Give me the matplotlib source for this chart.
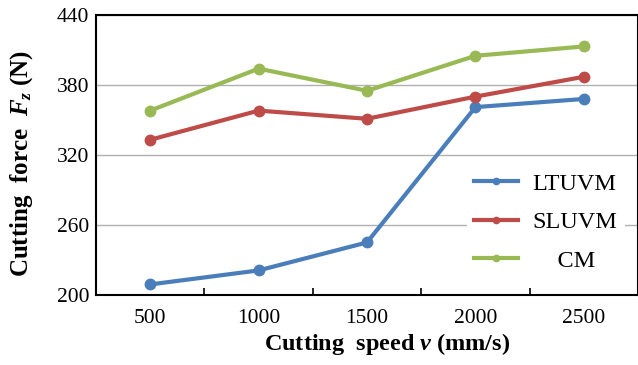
import numpy as np
import matplotlib.pyplot as plt

speeds = ['500', '1000', '1500', '2000', '2500']
ltuvm = [209, 221, 245, 361, 368]
sluvm = [333, 358, 351, 370, 387]
cm = [358, 394, 375, 405, 413]

plt.rcParams['font.family'] = ['Liberation Serif', 'DejaVu Serif']
plt.rcParams['mathtext.fontset'] = 'custom'
plt.rcParams['mathtext.rm'] = 'Liberation Serif:bold'
plt.rcParams['mathtext.it'] = 'Liberation Serif:bold:italic'
plt.rcParams['mathtext.bf'] = 'Liberation Serif:bold'

fig = plt.figure(figsize=(6.38, 3.65), dpi=100)
ax = fig.add_axes([0.1505, 0.192, 0.8495, 0.767])

x = np.arange(len(speeds))
ax.plot(x, ltuvm, color='#4a7ebb', lw=3, marker='o', ms=7.5, label='LTUVM')
ax.plot(x, sluvm, color='#be4b48', lw=3, marker='o', ms=7.5, label='SLUVM')
ax.plot(x, cm, color='#98b954', lw=3, marker='o', ms=7.5, label='    CM')

ax.set_xlim(-0.5, len(speeds) - 0.5)
ax.set_ylim(200, 440)
ax.set_yticks([200, 260, 320, 380, 440])
ax.set_xticks(x)
ax.set_xticklabels(speeds)
ax.set_xticks(x[:-1] + 0.5, minor=True)
ax.tick_params(axis='x', which='major', length=0, labelsize=15.5, pad=10)
ax.tick_params(axis='x', which='minor', direction='in', length=5, width=1.2)
ax.tick_params(axis='y', length=0, labelsize=15.5, pad=5)
ax.grid(axis='y', color='#b0b0b0', lw=1)
ax.set_axisbelow(True)
for s in ax.spines.values():
    s.set_linewidth(1.5)
    s.set_color('black')

ax.set_xlabel(r'Cutting  speed $v$ (mm/s)', fontsize=17.5, fontweight='bold')
ax.set_ylabel(r'Cutting  force  $F_z$ (N)', fontsize=18, fontweight='bold')
ax.xaxis.set_label_coords(0.537, -0.13)
ax.yaxis.set_label_coords(-0.112, 0.47)

leg = ax.legend(loc='center', bbox_to_anchor=(0.83, 0.26), frameon=True,
                fontsize=17.5, handlelength=1.8, handletextpad=0.6, markerscale=0.6,
                labelspacing=0.68, borderpad=0.3)
leg.get_frame().set_edgecolor('none')
leg.get_frame().set_facecolor('white')
leg.get_frame().set_alpha(1)

fig.savefig('out.png', dpi=100)
